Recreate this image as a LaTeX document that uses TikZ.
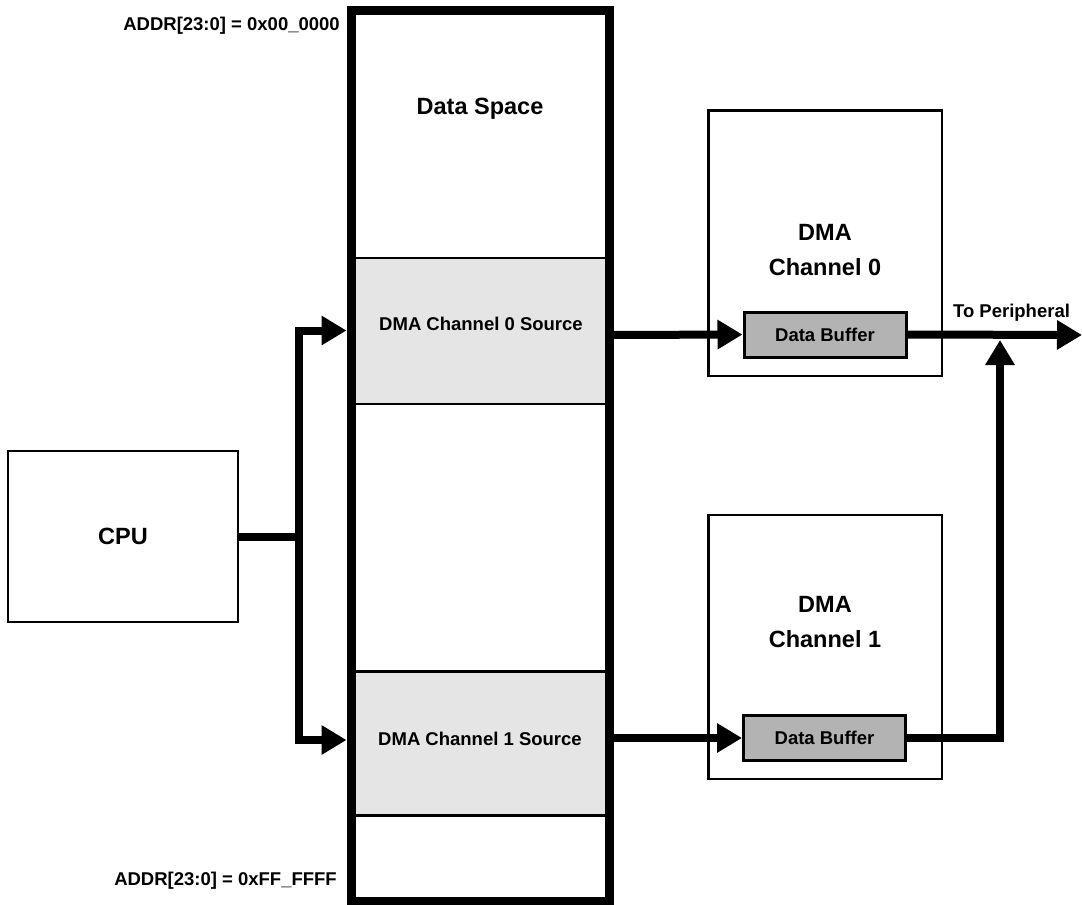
\documentclass[tikz,border=0pt]{standalone}
\usepackage{fontspec}
\setmainfont{Liberation Sans}
\usetikzlibrary{arrows.meta}
\definecolor{srcgray}{HTML}{E5E5E5}
\definecolor{bufgray}{HTML}{B3B3B3}
\begin{document}
\begin{tikzpicture}[x=1pt,y=-1pt,
  smalltxt/.style={font=\fontsize{18.5}{22}\selectfont\bfseries, inner sep=0pt},
  bigtxt/.style={font=\fontsize{23.5}{35}\selectfont\bfseries, inner sep=0pt, align=center},
  thinbox/.style={draw, line width=2.6pt, inner sep=0pt},
  section/.style={draw, line width=2.8pt, fill=srcgray, inner sep=0pt, minimum width=258.5pt},
  membox/.style={draw, line width=9pt, inner sep=0pt},
  bufbox/.style={draw, line width=3pt, fill=bufgray, inner sep=0pt, minimum width=162pt, minimum height=45pt,
                 font=\fontsize{18.5}{22}\selectfont\bfseries},
  bus/.style={line width=8pt, line join=miter},
  >={Triangle[length=25pt,width=28pt]}]
\useasboundingbox (0,0) rectangle (1082,905);

% memory column
\node[section, minimum height=146pt] (src0) at (480.25,331) {};
\node[section, minimum height=144pt] (src1) at (480.25,743.3) {};
\node[membox, minimum width=258.5pt, minimum height=890.5pt] (mem) at (480.25,455.75) {};
\node[bigtxt] (dspace) at (480,109) {Data Space};
\node[smalltxt] (src0t) at (481,324) {DMA Channel 0 Source};
\node[smalltxt] (src1t) at (480,739) {DMA Channel 1 Source};
\node[smalltxt, anchor=base east] (addr0) at (340,30.5) {ADDR[23:0] = 0x00\_0000};
\node[smalltxt, anchor=base east] (addr1) at (337,885) {ADDR[23:0] = 0xFF\_FFFF};

% CPU
\node[thinbox, minimum width=230pt, minimum height=171pt,
      font=\fontsize{23.5}{28}\selectfont\bfseries] (cpu) at (123,536.5) {CPU};

% DMA channels
\node[thinbox, minimum width=233.3pt, minimum height=265.7pt] (dma0) at (825.35,243.15) {};
\node[thinbox, minimum width=233.3pt, minimum height=264pt] (dma1) at (825.35,647) {};
\node[bigtxt] (dma0t) at (825,250) {DMA\\Channel 0};
\node[bigtxt] (dma1t) at (825,622) {DMA\\Channel 1};
\node[bufbox] (buf0) at (825,334.5) {Data Buffer};
\node[bufbox] (buf1) at (824.5,738) {Data Buffer};
\node[smalltxt, anchor=base] (periph) at (1011.5,317) {To Peripheral};

% connector end points
\coordinate (j) at (299,536.5);
\coordinate (in0) at (346.5,330.5);
\coordinate (in1) at (346.5,740);
\coordinate (out0) at (614,335);
\coordinate (out1) at (614,738);
\coordinate (pout) at (1082,335);
\coordinate (merge) at (1000,340);

% connectors
\draw[bus] (cpu.east) -- (j);
\draw[bus,<->] (in0) -- (299,330.5) -- (299,740) -- (in1);
\draw[bus,->] (out0) -- (buf0.west);
\draw[bus,->] (out1) -- (buf1.west);
\draw[bus,->] (buf0.east) -- (pout);
\draw[bus,->] (buf1.east) -- (1000,738) -- (merge);
\end{tikzpicture}
\end{document}
